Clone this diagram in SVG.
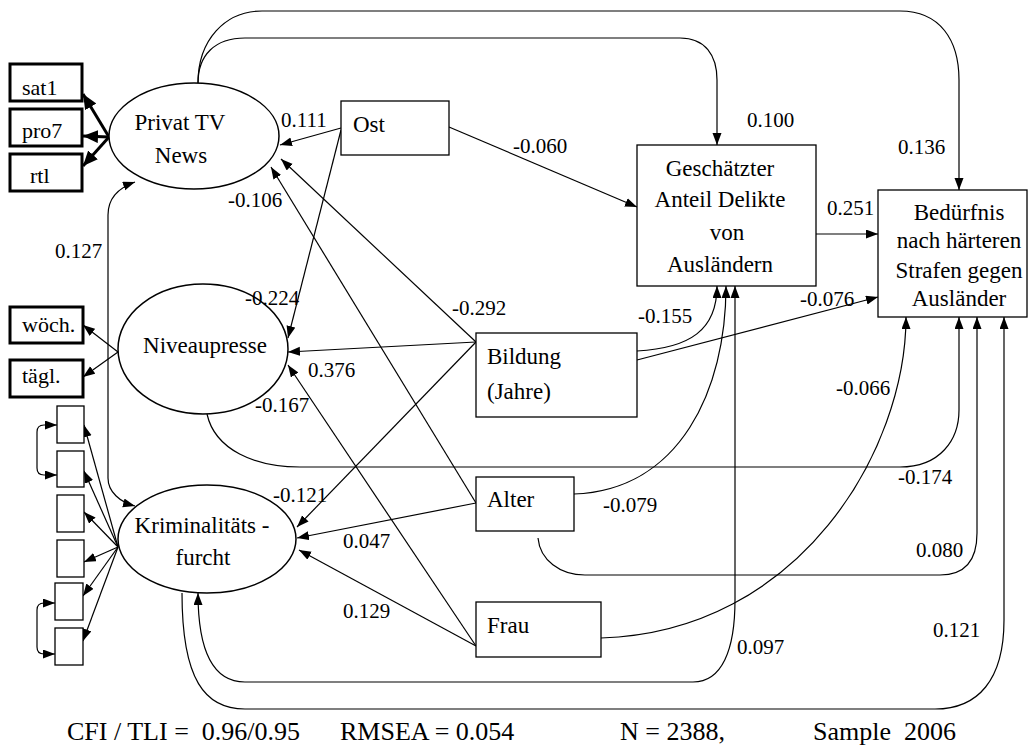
<svg xmlns="http://www.w3.org/2000/svg" width="1030" height="747" viewBox="0 0 1030 747">
<style>
text{font-family:"Liberation Serif","Times New Roman",serif;fill:#000}
.n{font-size:23px}
.c{text-anchor:middle}
.l{font-size:21px}
.f{font-size:26px}
.i{font-size:22px}
.box{fill:#fff;stroke:#000;stroke-width:1.3}
.tbox{fill:#fff;stroke:#000;stroke-width:3}
.ell{fill:#fff;stroke:#000;stroke-width:1.5}
.e{fill:none;stroke:#000;stroke-width:1.2;marker-end:url(#a)}
.d{fill:none;stroke:#000;stroke-width:1.2;marker-end:url(#a);marker-start:url(#a)}
.t{fill:none;stroke:#000;stroke-width:3;marker-end:url(#b)}
</style>
<defs>
<marker id="a" markerUnits="userSpaceOnUse" markerWidth="13" markerHeight="10" refX="12" refY="4.5" orient="auto-start-reverse"><path d="M0,0 L12,4.5 L0,9 z" fill="#000"/></marker>
<marker id="b" markerUnits="userSpaceOnUse" markerWidth="16" markerHeight="14" refX="15" refY="6.5" orient="auto"><path d="M0,0 L15,6.5 L0,13 z" fill="#000"/></marker>
</defs>
<rect width="1030" height="747" fill="#fff"/>
<g id="connectors">
<path class="e" d="M198,83 C198,40 225,11 262,11 L900,11 C940,11 959,40 959,80 L959,190"/>
<path class="e" d="M198,83 C198,55 215,38 245,38 L680,38 C705,38 717,55 717,80 L717,145"/>
<path class="t" d="M109,137 L83,94"/>
<path class="t" d="M109,137 L83,136"/>
<path class="t" d="M109,137 L83,166"/>
<path class="e" d="M118,352 L83,325"/>
<path class="e" d="M118,352 L83,377"/>
<path class="e" d="M118,547 L84,425"/>
<path class="e" d="M118,547 L84,471"/>
<path class="e" d="M118,547 L84,512"/>
<path class="e" d="M118,547 L84,562"/>
<path class="e" d="M118,547 L83,596"/>
<path class="e" d="M118,547 L83,641"/>
<path class="d" d="M57,425 L44,425 Q37,425 37,432 L37,468 Q37,475 44,475 L57,475"/>
<path class="d" d="M55,603 L44,603 Q37,603 37,610 L37,647 Q37,654 44,654 L55,654"/>
<path class="d" d="M135,182 C118,188 108,198 108,215 L108,478 C108,492 120,502 135,506"/>
<path class="e" d="M341,128 L280,145"/>
<path class="e" d="M341,130 L288,338"/>
<path class="e" d="M449,127 L637,207"/>
<path class="e" d="M476,342 L281,159"/>
<path class="e" d="M476,342 L288,352"/>
<path class="e" d="M476,342 L297,527"/>
<path class="e" d="M476,503 L271,167"/>
<path class="e" d="M476,503 L297,538"/>
<path class="e" d="M476,646 L288,365"/>
<path class="e" d="M476,646 L299,550"/>
<path class="e" d="M816,234 L878,234"/>
<path class="e" d="M637,360 L878,297"/>
<path class="e" d="M637,351 C690,348 717,330 717,286"/>
<path class="e" d="M574,494 C680,490 726,390 726,286"/>
<path class="e" d="M601,638 C800,632 906,450 906,317"/>
<path class="e" d="M207,414 C215,450 255,467 300,467 L900,467 C940,467 959,440 959,410 L959,317"/>
<path class="e" d="M538,538 C540,560 560,575 585,575 L940,575 C965,575 977,560 977,533 L977,317"/>
<path class="d" d="M198,593 C198,655 215,682 245,682 L693,682 C722,682 735,650 735,600 L735,286"/>
<path class="e" d="M182,593 C182,680 205,709 245,709 L935,709 C978,709 1004,680 1004,620 L1004,317"/>
</g>
<g id="sat1"><rect class="tbox" x="10" y="64" width="72" height="37"/><text class="i" x="22" y="95">sat1</text></g>
<g id="pro7"><rect class="tbox" x="10" y="109" width="72" height="37"/><text class="i" x="22" y="138">pro7</text></g>
<g id="rtl"><rect class="tbox" x="10" y="154" width="72" height="37"/><text class="i" x="30" y="183">rtl</text></g>
<g id="woech"><rect class="tbox" x="10" y="307" width="73" height="36"/><text class="i" x="22" y="332">wöch.</text></g>
<g id="taegl"><rect class="tbox" x="10" y="360" width="73" height="37"/><text class="i" x="22" y="383">tägl.</text></g>
<g id="k1"><rect class="box" x="57" y="406" width="27" height="37"/></g>
<g id="k2"><rect class="box" x="57" y="451" width="27" height="36"/></g>
<g id="k3"><rect class="box" x="57" y="495" width="27" height="37"/></g>
<g id="k4"><rect class="box" x="57" y="540" width="27" height="37"/></g>
<g id="k5"><rect class="box" x="55" y="583" width="28" height="37"/></g>
<g id="k6"><rect class="box" x="55" y="628" width="28" height="37"/></g>
<g id="privat"><ellipse class="ell" cx="194" cy="136" rx="85" ry="53"/><text class="n c" x="180" y="130">Privat TV</text><text class="n c" x="181" y="163">News</text></g>
<g id="niveau"><ellipse class="ell" cx="203" cy="349" rx="85" ry="65"/><text class="n c" x="205" y="353">Niveaupresse</text></g>
<g id="krim"><ellipse class="ell" cx="207" cy="539" rx="89" ry="54"/><text class="n c" x="202" y="533">Kriminalitäts -</text><text class="n c" x="203" y="565">furcht</text></g>
<g id="ost"><rect class="box" x="341" y="101" width="108" height="54"/><text class="n" x="353" y="132">Ost</text></g>
<g id="bildung"><rect class="box" x="476" y="333" width="161" height="84"/><text class="n" x="487" y="364">Bildung</text><text class="n" x="487" y="399">(Jahre)</text></g>
<g id="alter"><rect class="box" x="476" y="477" width="98" height="54"/><text class="n" x="487" y="507">Alter</text></g>
<g id="frau"><rect class="box" x="476" y="602" width="125" height="55"/><text class="n" x="487" y="633">Frau</text></g>
<g id="geschaetzt"><rect class="box" x="637" y="145" width="179" height="141"/><text class="n c" x="720" y="176">Geschätzter</text><text class="n c" x="720" y="207">Anteil Delikte</text><text class="n c" x="727" y="240">von</text><text class="n c" x="720" y="272">Ausländern</text></g>
<g id="beduerfnis"><rect class="box" x="878" y="190" width="149" height="127"/><text class="n c" x="959" y="220">Bedürfnis</text><text class="n c" x="959" y="248">nach härteren</text><text class="n c" x="959" y="278">Strafen gegen</text><text class="n c" x="959" y="306">Ausländer</text></g>
<g id="labels" class="l">
<text class="l" x="281" y="127">0.111</text>
<text class="l" x="513" y="153">-0.060</text>
<text class="l" x="747" y="127">0.100</text>
<text class="l" x="898" y="154">0.136</text>
<text class="l" x="827" y="215">0.251</text>
<text class="l" x="228" y="207">-0.106</text>
<text class="l" x="55" y="258">0.127</text>
<text class="l" x="245" y="305">-0.224</text>
<text class="l" x="452" y="315">-0.292</text>
<text class="l" x="638" y="323">-0.155</text>
<text class="l" x="800" y="306">-0.076</text>
<text class="l" x="308" y="377">0.376</text>
<text class="l" x="255" y="412">-0.167</text>
<text class="l" x="836" y="395">-0.066</text>
<text class="l" x="273" y="502">-0.121</text>
<text class="l" x="603" y="512">-0.079</text>
<text class="l" x="898" y="484">-0.174</text>
<text class="l" x="343" y="548">0.047</text>
<text class="l" x="916" y="557">0.080</text>
<text class="l" x="343" y="618">0.129</text>
<text class="l" x="933" y="637">0.121</text>
<text class="l" x="737" y="654">0.097</text>
</g>
<g id="footer">
<text class="f" x="67" y="740" xml:space="preserve">CFI / TLI =  0.96/0.95</text>
<text class="f" x="340" y="740">RMSEA = 0.054</text>
<text class="f" x="620" y="740">N = 2388,</text>
<text class="f" x="813" y="740" xml:space="preserve">Sample  2006</text>
</g>
</svg>
